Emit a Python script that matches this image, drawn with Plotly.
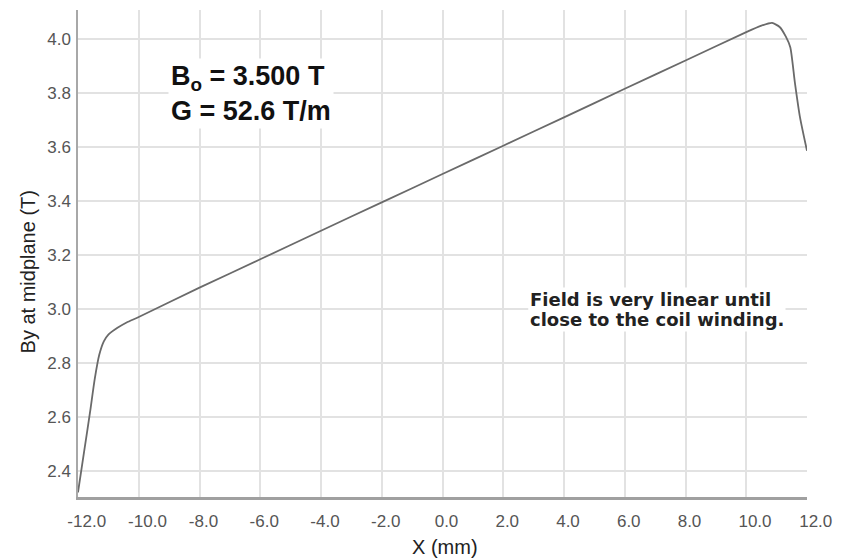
import plotly.graph_objects as go

# field profile along X at the midplane
x_mm = [-12.0, -11.8, -11.6, -11.45, -11.3, -11.15, -11.0, -10.7, -10.4, -10.0,
        -8.0, -6.0, -4.0, -2.0, 0.0, 2.0, 4.0, 6.0, 8.0, 10.0,
        10.5, 10.85, 11.1, 11.3, 11.45, 11.6, 11.77, 12.0]
by_t = [2.32, 2.47, 2.62, 2.74, 2.83, 2.88, 2.905, 2.93, 2.95, 2.97,
        3.079, 3.184, 3.290, 3.395, 3.500, 3.605, 3.710, 3.816, 3.921, 4.026,
        4.050, 4.060, 4.045, 4.010, 3.970, 3.840, 3.710, 3.586]

x_ticks = [-12, -10, -8, -6, -4, -2, 0, 2, 4, 6, 8, 10, 12]
x_ticktext = ["\u2007-12.0", "\u2007-10.0", "-8.0", "-6.0", "-4.0", "-2.0", "0.0",
              "2.0", "4.0", "6.0", "8.0", "\u200710.0", "\u200712.0"]
y_ticks = [2.4, 2.6, 2.8, 3.0, 3.2, 3.4, 3.6, 3.8, 4.0]

TICK_FONT = dict(family="Liberation Sans, Arial", size=17, color="#555555")
TITLE_FONT = dict(family="Liberation Sans, Arial", size=20, color="#222222")
NOTE_FONT = dict(family="DejaVu Sans", size=18, color="#222222", weight="bold")

fig = go.Figure()
fig.add_trace(
    go.Scatter(
        x=x_mm,
        y=by_t,
        mode="lines",
        line=dict(color="#6a6a6a", width=1.8, shape="spline", smoothing=0.6),
        showlegend=False,
    )
)

fig.update_xaxes(
    range=[-12.0, 12.0],
    tickvals=x_ticks,
    ticktext=x_ticktext,
    tickfont=TICK_FONT,
    ticklabelshift=4,
    ticklabelstandoff=7,
    automargin=False,
    showgrid=True,
    gridcolor="#e2e2e2",
    gridwidth=1.5,
    zeroline=False,
    showline=True,
    linecolor="#a0a0a0",
    linewidth=2.5,
)
fig.update_yaxes(
    range=[2.303, 4.108],
    tickvals=y_ticks,
    tickformat=".1f",
    tickfont=TICK_FONT,
    ticklabelstandoff=2,
    automargin=False,
    showgrid=True,
    gridcolor="#e2e2e2",
    gridwidth=1.5,
    zeroline=False,
    showline=True,
    linecolor="#a8a8a8",
    linewidth=1.5,
)

# axis titles as paper annotations so the plot area stays put
fig.add_annotation(
    text="X (mm)",
    xref="paper", yref="paper", x=0.503, y=-0.103,
    xanchor="center", yanchor="middle", showarrow=False,
    font=TITLE_FONT,
)
fig.add_annotation(
    text="By at midplane (T)",
    xref="paper", yref="paper", x=-0.068, y=0.462,
    xanchor="center", yanchor="middle",
    textangle=-90, showarrow=False,
    font=TITLE_FONT,
)
fig.add_annotation(
    text="B<sub>o</sub> = 3.500 T<br>G = 52.6 T/m",
    x=-9.05, y=3.80, xanchor="left", yanchor="middle", align="left",
    showarrow=False, bgcolor="white", borderpad=2,
    font=dict(family="Liberation Sans, Arial", size=27, color="#111111", weight="bold"),
)
# second line first, so the first line's box does not hide its descenders
fig.add_annotation(
    text="close to the coil winding.",
    x=2.8, y=2.962, xanchor="left", yanchor="middle",
    showarrow=False, bgcolor="white", borderpad=1,
    font=NOTE_FONT,
)
fig.add_annotation(
    text="Field is very linear until",
    x=2.8, y=3.036, xanchor="left", yanchor="middle",
    showarrow=False, bgcolor="white", borderpad=1,
    font=NOTE_FONT,
)

fig.update_layout(
    width=846,
    height=559,
    margin=dict(l=78, r=39, t=10, b=62),
    paper_bgcolor="white",
    plot_bgcolor="white",
)

fig.write_html(
    "out.html",
    config={"displayModeBar": False},
    post_script="document.body.style.margin='0';",
)
